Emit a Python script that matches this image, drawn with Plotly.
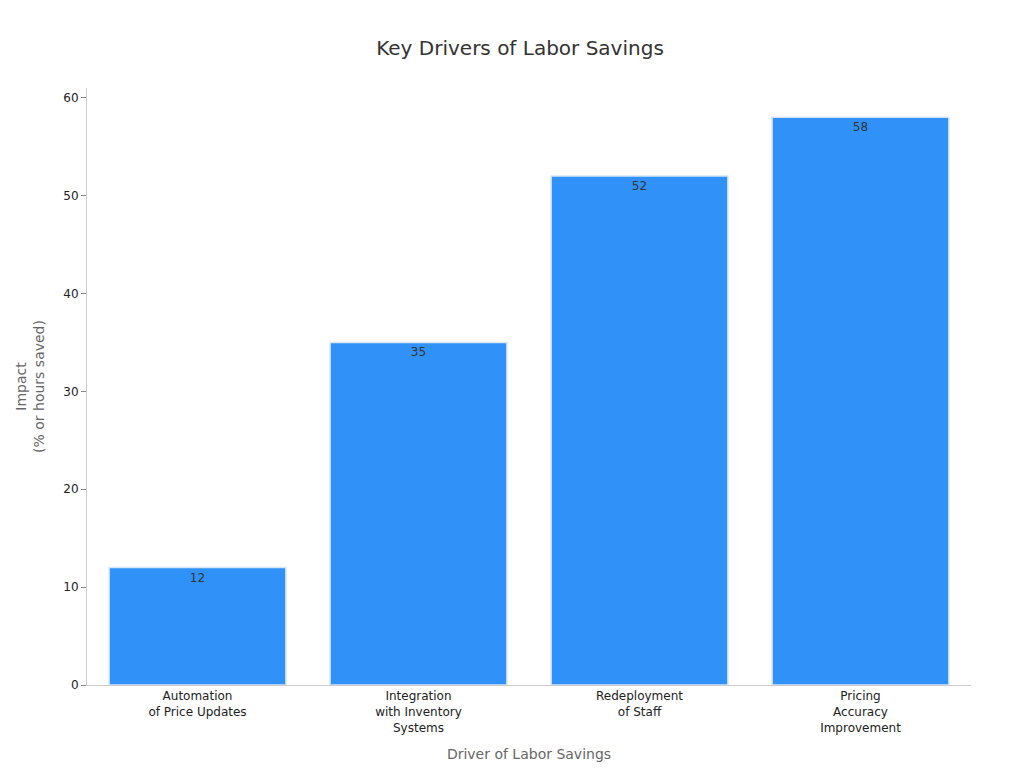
import plotly.graph_objects as go

drivers = ["Automation<br>of Price Updates", "Integration<br>with Inventory<br>Systems",
           "Redeployment<br>of Staff", "Pricing<br>Accuracy<br>Improvement"]
impact = [12, 35, 52, 58]

fig = go.Figure()
fig.add_trace(go.Bar(
    x=drivers, y=impact,
    marker=dict(color="#3092f9", line=dict(color="#d6e6f7", width=1.5)),
    text=impact, textposition="inside", insidetextanchor="end",
    textfont=dict(color="#333333", size=12),
    width=0.8,
))

fig.update_layout(
    width=1024, height=768,
    paper_bgcolor="white", plot_bgcolor="white",
    font=dict(family="DejaVu Sans", color="#222222", size=12),
    title=dict(text="Key Drivers of Labor Savings", x=0.5, y=0.957, xanchor="center",
               font=dict(size=20, color="#333333")),
    margin=dict(l=79, r=61, t=80, b=91),
    showlegend=False,
)
fig.update_xaxes(
    title=dict(text="Driver of Labor Savings", font=dict(size=14, color="#666666")),
    showline=True, linecolor="#cccccc", ticks="", showgrid=False,
)
fig.update_yaxes(
    title=dict(text="Impact<br>(% or hours saved)", font=dict(size=14, color="#666666")),
    range=[0, 61], dtick=10, showline=True, linecolor="#cccccc",
    ticks="outside", ticklen=5, tickcolor="#888888", showgrid=False, zeroline=False,
)

fig.write_html("out.html")
